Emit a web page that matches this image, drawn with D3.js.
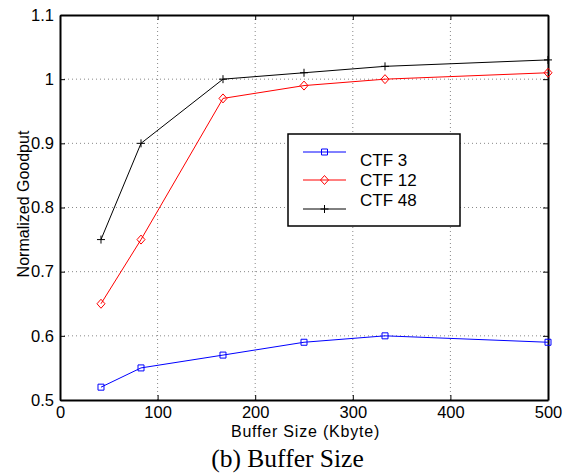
<!DOCTYPE html>
<html>
<head>
<meta charset="utf-8">
<script src="https://cdn.jsdelivr.net/npm/d3@7"></script>
<style>
  body { margin: 0; background: #fff; }
  svg { display: block; }
</style>
</head>
<body>
<div id="chart"></div>
<script>
// buffer sizes (Kbyte)
const bufferSizes = [42, 83, 167, 250, 333, 500];
const ctf3 = [0.52, 0.55, 0.57, 0.59, 0.60, 0.59];
const ctf12 = [0.65, 0.75, 0.97, 0.99, 1.00, 1.01];
const ctf48 = [0.75, 0.90, 1.00, 1.01, 1.02, 1.03];
const xTicks = [0, 100, 200, 300, 400, 500];
const yTicks = [0.5, 0.6, 0.7, 0.8, 0.9, 1.0, 1.1];
const seriesNames = ['CTF 3', 'CTF 12', 'CTF 48'];

const width = 571, height = 475;
const margins = { top: 15, right: 23, bottom: 75, left: 60 };
const iw = width - margins.left - margins.right;
const ih = height - margins.top - margins.bottom;
const sans = 'Liberation Sans, Arial, sans-serif';

const svg = d3.select('#chart').append('svg')
  .attr('width', width).attr('height', height);

const g = svg.append('g').attr('transform', `translate(${margins.left},${margins.top})`);

const xScale = d3.scaleLinear().domain([0, 500]).range([0, iw]);
const yScale = d3.scaleLinear().domain([0.5, 1.1]).range([ih, 0]);

// grid (dotted)
g.selectAll('.vgrid').data(xTicks.slice(1, -1)).enter().append('line')
  .attr('x1', d => xScale(d)).attr('x2', d => xScale(d))
  .attr('y1', 0).attr('y2', ih)
  .attr('stroke', '#888').attr('stroke-width', 1).attr('stroke-dasharray', '1,3');
g.selectAll('.hgrid').data(yTicks.slice(1, -1)).enter().append('line')
  .attr('x1', 0).attr('x2', iw)
  .attr('y1', d => yScale(d)).attr('y2', d => yScale(d))
  .attr('stroke', '#888').attr('stroke-width', 1).attr('stroke-dasharray', '1,3');

// axes with inward ticks
const fmtY = d => (d === 1 ? '1' : d3.format('.1f')(d));
const axisB = g.append('g').attr('transform', `translate(0,${ih})`)
  .call(d3.axisBottom(xScale).tickValues(xTicks).tickSizeInner(-5).tickSizeOuter(0).tickPadding(6));
const axisL = g.append('g')
  .call(d3.axisLeft(yScale).tickValues(yTicks).tickFormat(fmtY).tickSizeInner(-5).tickSizeOuter(0).tickPadding(6));
const axisT = g.append('g')
  .call(d3.axisTop(xScale).tickValues(xTicks).tickSizeInner(-5).tickSizeOuter(0).tickFormat(''));
const axisR = g.append('g').attr('transform', `translate(${iw},0)`)
  .call(d3.axisRight(yScale).tickValues(yTicks).tickSizeInner(-5).tickSizeOuter(0).tickFormat(''));

[axisB, axisL, axisT, axisR].forEach(a => {
  a.select('.domain').attr('stroke', '#000').attr('stroke-width', 2);
  a.selectAll('.tick line').attr('stroke', '#000');
  a.selectAll('text').attr('fill', '#000')
    .style('font-family', sans).style('font-size', '16.5px');
});

const series = [
  { name: seriesNames[0], values: ctf3, color: '#0000ff', marker: 'square' },
  { name: seriesNames[1], values: ctf12, color: '#ff0000', marker: 'diamond' },
  { name: seriesNames[2], values: ctf48, color: '#000000', marker: 'plus' }
];

const markerPath = (type) => {
  if (type === 'square') return 'M-3,-3H3V3H-3Z';
  if (type === 'diamond') return 'M0,-4.5L4,0L0,4.5L-4,0Z';
  return 'M-4,0H4M0,-4V4';
};

const line = d3.line().x((d, i) => xScale(bufferSizes[i])).y(d => yScale(d));

series.forEach(s => {
  g.append('path').datum(s.values)
    .attr('d', line).attr('fill', 'none')
    .attr('stroke', s.color).attr('stroke-width', 1);
  g.selectAll(null).data(s.values).enter().append('path')
    .attr('transform', (d, i) => `translate(${xScale(bufferSizes[i])},${yScale(d)})`)
    .attr('d', markerPath(s.marker))
    .attr('fill', 'none').attr('stroke', s.color).attr('stroke-width', 1);
});

// legend
const lg = svg.append('g').attr('transform', 'translate(288,134)');
lg.append('rect').attr('width', 172).attr('height', 92)
  .attr('fill', '#fff').attr('stroke', '#000').attr('stroke-width', 1.5);
const legendLineY = [18, 46, 75];
const legendTextY = [26, 46, 66];
series.forEach((s, i) => {
  lg.append('line').attr('x1', 15).attr('x2', 58)
    .attr('y1', legendLineY[i]).attr('y2', legendLineY[i])
    .attr('stroke', s.color).attr('stroke-width', 1);
  lg.append('path').attr('transform', `translate(36.5,${legendLineY[i]})`)
    .attr('d', markerPath(s.marker))
    .attr('fill', 'none').attr('stroke', s.color);
  lg.append('text').attr('x', 72).attr('y', legendTextY[i]).attr('dy', '0.35em')
    .style('font-family', sans).style('font-size', '17px')
    .text(s.name);
});

// axis labels
svg.append('text')
  .attr('x', 305.5).attr('y', 437)
  .attr('text-anchor', 'middle')
  .style('font-family', sans).style('font-size', '16px')
  .style('letter-spacing', '0.8px')
  .text('Buffer Size (Kbyte)');

svg.append('text')
  .attr('transform', 'rotate(-90)')
  .attr('x', -204).attr('y', 29)
  .attr('text-anchor', 'middle')
  .style('font-family', sans).style('font-size', '16px')
  .text('Normalized Goodput');

svg.append('text')
  .attr('x', 287.5).attr('y', 467)
  .attr('text-anchor', 'middle')
  .style('font-family', 'Liberation Serif, Times New Roman, serif').style('font-size', '25.5px')
  .text('(b) Buffer Size');
</script>
</body>
</html>
